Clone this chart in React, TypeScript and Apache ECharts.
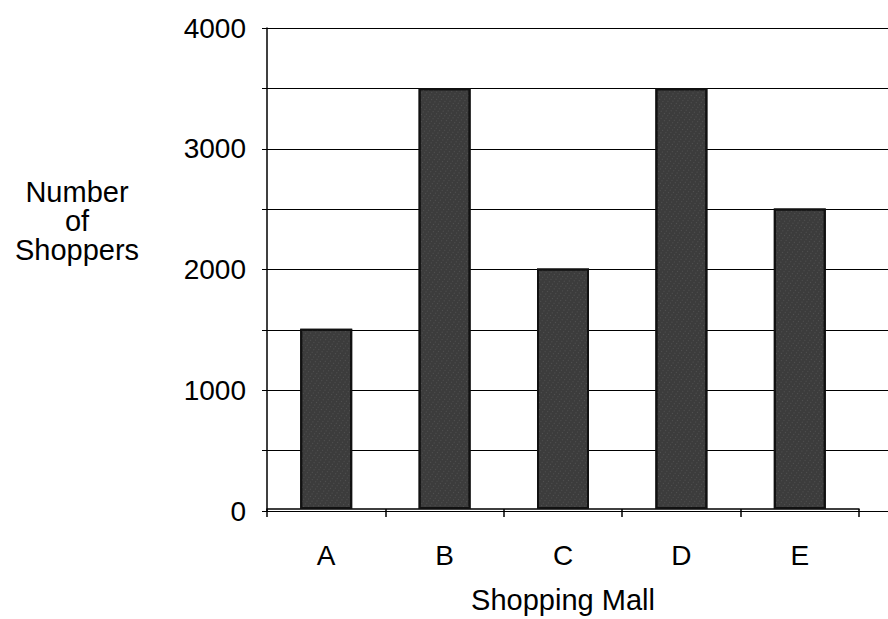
import React, { useEffect, useRef } from "react";
import * as echarts from "echarts";

const categories = ["A", "B", "C", "D", "E"];
const shoppers = [1500, 3500, 2000, 3500, 2500];
const yTicks = [0, 1000, 2000, 3000, 4000];
const yTitleLines = ["Number", "of", "Shoppers"];
const xTitle = "Shopping Mall";

const FONT = "'Liberation Sans', Arial, sans-serif";

export default function App() {
  const ref = useRef<HTMLDivElement>(null);
  useEffect(() => {
    if (!ref.current) return;
    const chart = echarts.init(ref.current, null, { renderer: "svg" });
    const top = 28;
    const bottom = 619 - 511;
    chart.setOption({
      animation: false,
      backgroundColor: "#ffffff",
      textStyle: { fontFamily: FONT },
      grid: [
        { left: 267, right: 0, top, bottom },
        { left: 267, width: 592, top, bottom },
      ],
      graphic: [
        {
          type: "text",
          left: 77 - 70,
          top: 177,
          style: {
            text: yTitleLines.join("\n"),
            width: 140,
            x: 70,
            font: `29px ${FONT}`,
            lineHeight: 29,
            fill: "#000",
            textAlign: "center",
          },
        },
      ],
      xAxis: [
        { type: "value", gridIndex: 0, min: 0, max: 1, show: false },
        {
          type: "category",
          gridIndex: 1,
          data: categories,
          boundaryGap: true,
          axisLine: { show: true, lineStyle: { color: "#000", width: 1.5 } },
          axisTick: { show: true, alignWithLabel: false, length: 8, lineStyle: { color: "#000", width: 1.5 } },
          axisLabel: { color: "#000", fontSize: 28, fontFamily: FONT, margin: 32 },
          name: xTitle,
          nameLocation: "middle",
          nameGap: 76,
          nameTextStyle: { color: "#000", fontSize: 29, fontFamily: FONT },
        },
      ],
      yAxis: [
        {
          type: "value",
          gridIndex: 0,
          min: 0,
          max: 4000,
          interval: 500,
          axisLine: { show: true, lineStyle: { color: "#000", width: 1.5 } },
          axisTick: { show: true, length: 5, lineStyle: { color: "#000" } },
          splitLine: { show: true, lineStyle: { color: "#000", width: 1 } },
          axisLabel: {
            color: "#000",
            fontSize: 28,
            fontFamily: FONT,
            margin: 21,
            formatter: (v: number) => (yTicks.includes(v) ? String(v) : ""),
          },
        },
        { type: "value", gridIndex: 1, min: 0, max: 4000, show: false },
      ],
      aria: { enabled: false, decal: { show: true } },
      series: [
        {
          type: "bar",
          xAxisIndex: 1,
          yAxisIndex: 1,
          data: shoppers,
          barWidth: 52,
          itemStyle: {
            color: "#3c3c3c",
            borderColor: "#111",
            borderWidth: 2,
            decal: {
              symbol: "rect",
              symbolSize: 0.5,
              color: "rgba(255,255,255,0.45)",
              dashArrayX: [1, 3],
              dashArrayY: [1, 2],
              rotation: 0.6,
            },
          },
        },
      ],
    });
    return () => chart.dispose();
  }, []);
  return (
    <div
      ref={ref}
      style={{ position: "fixed", left: 0, top: 0, width: 888, height: 619 }}
    />
  );
}
